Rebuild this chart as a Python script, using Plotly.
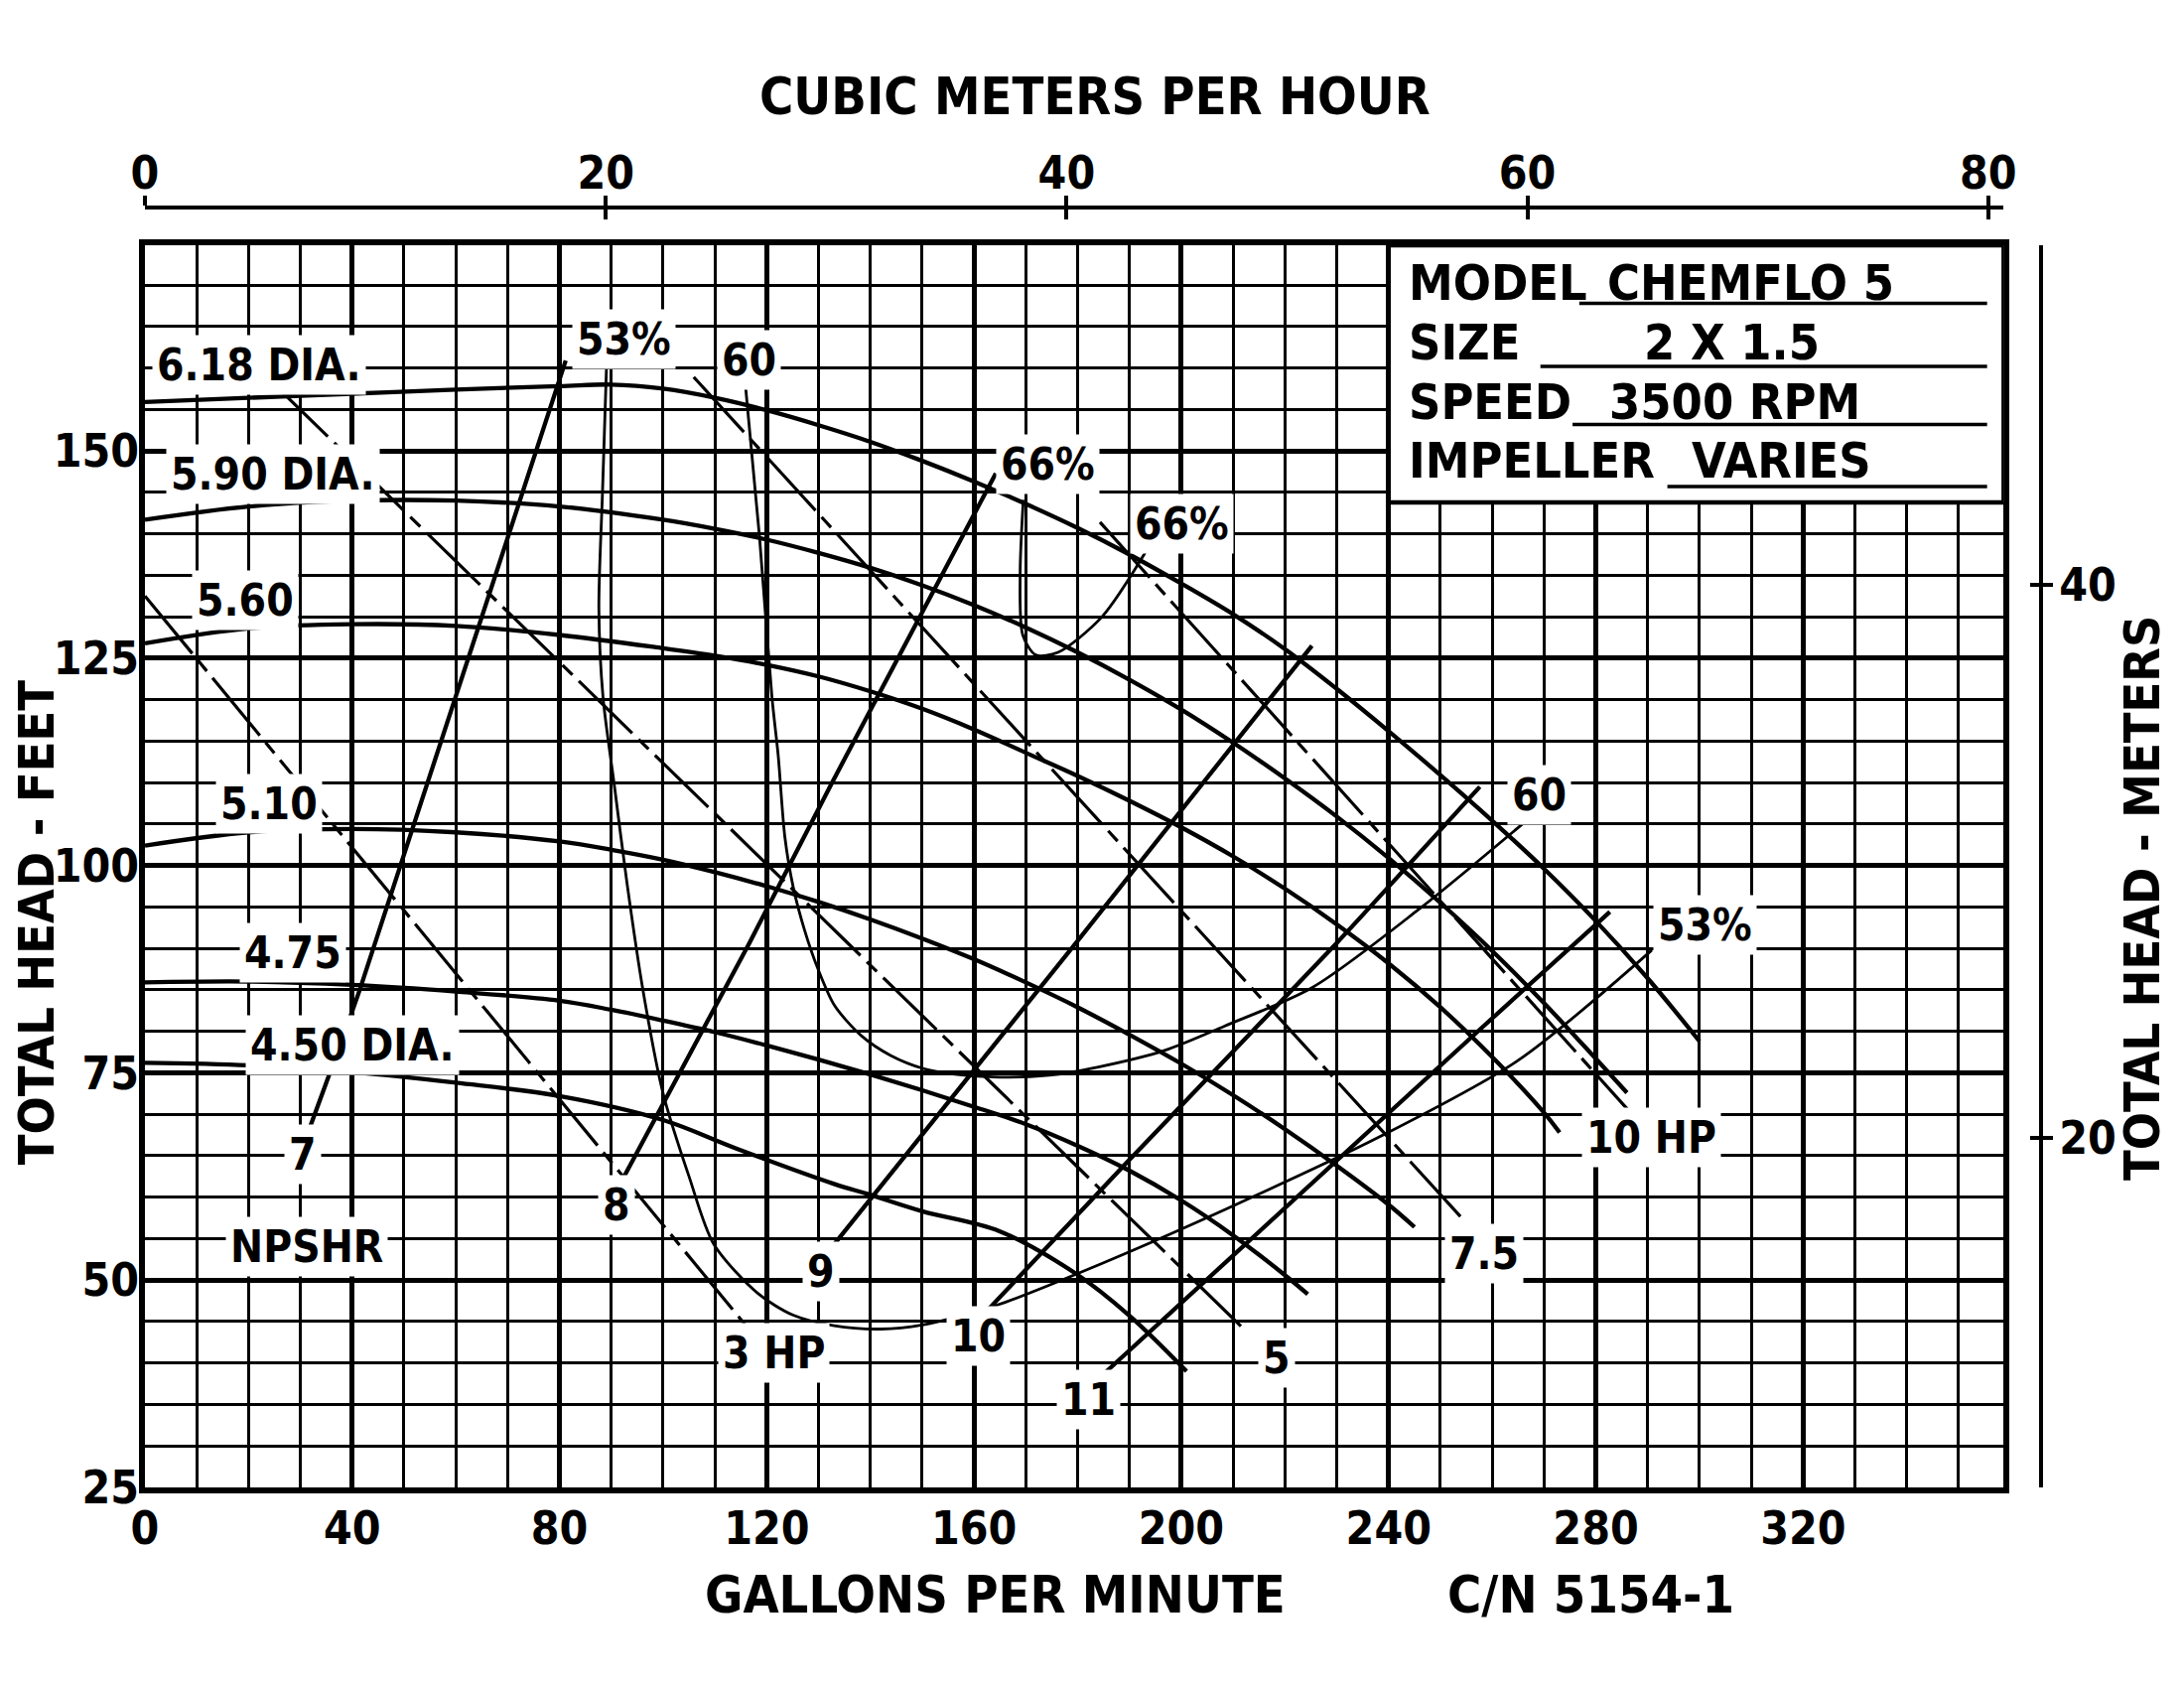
import plotly.graph_objects as go

FONT = "DejaVu Sans Condensed, Liberation Sans Narrow, Arial Narrow, sans-serif"

# ---------------- data (GPM, feet) ----------------
gpm_ticks = [0, 40, 80, 120, 160, 200, 240, 280, 320]
ft_ticks = [25, 50, 75, 100, 125, 150]
m3h_ticks = [0, 20, 40, 60, 80]
m_ticks = [20, 40]

d618_q = [0, 20, 40, 60, 80, 90, 100, 110, 120, 130, 140, 150, 160, 170, 180, 190, 200, 210, 220, 230, 240, 250, 260, 270, 280, 290, 300]
d618_h = [155.9, 156.4, 156.9, 157.4, 157.8, 158.0, 157.5, 156.4, 154.9, 153.1, 151.1, 148.8, 146.3, 143.6, 140.7, 137.5, 134.0, 130.3, 126.1, 121.3, 116.2, 110.9, 105.4, 99.6, 93.3, 86.4, 78.8]

d590_q = [0, 20, 40, 60, 80, 100, 110, 120, 130, 140, 150, 160, 170, 180, 190, 200, 210, 220, 230, 240, 250, 260, 270, 280, 286]
d590_h = [141.7, 143.3, 144.0, 144.0, 143.3, 141.7, 140.6, 139.3, 137.7, 135.9, 133.8, 131.4, 128.7, 125.7, 122.4, 118.8, 114.8, 110.5, 105.9, 100.9, 95.5, 89.7, 83.4, 76.7, 72.6]

d560_q = [0, 20, 40, 60, 80, 100, 110, 120, 130, 140, 150, 160, 170, 180, 190, 200, 210, 220, 230, 240, 250, 260, 270, 273]
d560_h = [126.8, 128.6, 129.1, 128.9, 127.8, 126.2, 125.3, 124.2, 122.8, 121.0, 118.9, 116.4, 113.6, 110.8, 107.8, 104.6, 101.1, 97.2, 92.9, 88.2, 82.9, 76.9, 70.2, 67.8]

d510_q = [0, 20, 40, 60, 80, 90, 100, 110, 120, 130, 140, 150, 160, 170, 180, 190, 200, 210, 220, 230, 240, 245]
d510_h = [102.4, 104.0, 104.4, 104.0, 102.9, 101.9, 100.7, 99.2, 97.5, 95.6, 93.5, 91.2, 88.7, 85.9, 82.9, 79.6, 76.1, 72.3, 68.2, 63.8, 59.1, 56.4]

d475_q = [0, 20, 40, 60, 80, 90, 100, 110, 120, 130, 140, 150, 160, 170, 180, 190, 200, 210, 220, 224.4]
d475_h = [85.9, 86.0, 85.6, 84.8, 83.7, 82.6, 81.3, 79.9, 78.3, 76.6, 74.8, 72.9, 70.9, 68.8, 66.2, 63.2, 59.6, 55.4, 50.6, 48.3]

d450_q = [0, 20, 40, 60, 80, 100, 114, 133, 139.4, 150, 164.9, 179.6, 190, 201]
d450_h = [76.2, 75.9, 75.1, 73.8, 72.2, 69.3, 65.9, 61.6, 60.4, 58.3, 55.9, 50.8, 45.7, 39.0]

eff53_q = [89.1, 88.3, 87.6, 88.4, 90.6, 93.0, 96.1, 100, 105, 109.8, 118.3, 125, 133, 142, 150, 163.6, 185, 210.5, 238, 265, 290.8]
eff53_h = [160.7, 145, 131, 120.3, 109.6, 98.0, 85, 72.5, 62.5, 54.3, 48.4, 45.8, 44.5, 44.1, 44.6, 46.8, 52.1, 59.1, 67.2, 76.5, 89.8]

eff60_q = [115.9, 118.6, 121.0, 122.2, 123.5, 125.1, 127.3, 129.9, 133.1, 138.2, 143.9, 150.3, 155.4, 163.6, 174.5, 184.0, 196.8, 208.2, 225.3, 245.8, 266.0]
eff60_h = [157.8, 139.6, 120.3, 113.3, 103.4, 97.4, 92.2, 87.5, 83.1, 79.5, 77.1, 75.5, 74.9, 74.5, 74.7, 75.7, 77.7, 80.6, 85.3, 94.7, 105.1]

eff66_q = [169.5, 168.9, 169.4, 171.9, 176.2, 184.7, 193.3]
eff66_h = [144.1, 135.3, 127.8, 125.4, 125.7, 130.0, 138.0]

np7_q = [31.7, 41.5, 81.2]
np7_h = [68.2, 85.1, 160.9]
np8_q = [92.3, 116.6, 132.6, 164.2]
np8_h = [62.3, 90.6, 110.0, 147.3]
np9_q = [132.2, 179.6, 225.2]
np9_h = [53.7, 90.6, 126.5]
np10_q = [162.5, 189.8, 229.9, 257.6]
np10_h = [46.3, 64.4, 90.6, 109.5]
np11_q = [184.7, 258.1, 282.7]
np11_h = [38.5, 80.5, 94.4]

hp3_q = [0, 116]
hp3_h = [132.5, 44.5]
hp5_q = [25.0, 212.4]
hp5_h = [158.0, 43.9]
hp75_q = [105.9, 255.0]
hp75_h = [158.9, 56.9]
hp10_q = [184.3, 286.1]
hp10_h = [141.4, 70.6]

# curve labels: text, GPM, feet
label_text = ["6.18 DIA.", "5.90 DIA.", "5.60", "5.10", "4.75", "4.50 DIA.",
              "53%", "60", "66%", "66%", "60", "53%",
              "7", "8", "9", "10", "11", "NPSHR",
              "3 HP", "5", "7.5", "10 HP"]
label_q = [22.0, 24.8, 19.3, 24.0, 28.5, 40.0,
           92.4, 116.6, 174.3, 200.1, 269.1, 301.0,
           30.4, 91.0, 130.5, 160.8, 182.0, 31.3,
           121.3, 218.4, 258.4, 290.8]
label_h = [160.4, 147.2, 132.0, 107.4, 89.5, 78.3,
           163.5, 161.0, 148.4, 141.2, 108.5, 92.8,
           65.2, 59.1, 51.1, 43.3, 35.6, 54.0,
           41.2, 40.6, 53.2, 67.2]

info_keys = ["MODEL", "SIZE", "SPEED", "IMPELLER"]
info_vals = ["CHEMFLO 5", "2 X 1.5", "3500 RPM", "VARIES"]

# ---------------- geometry ----------------
W, H = 2184, 1684
ML, MR, MT, MB = 138, 20, 20, 194
PW, PH = W - ML - MR, H - MT - MB
OFF = 8  # browser body margin


def pxx(x_orig):
    return (x_orig - OFF - ML) / PW


def pyy(y_orig):
    return (H - MB - (y_orig - OFF)) / PH


XD1 = pxx(2023)
YD1 = pyy(247)
X_MAX = 358.7
Y_MIN, Y_MAX = 25, 174.8

fig = go.Figure()


def curve(q, h, width, dash=None, shape="spline", smoothing=1.0):
    fig.add_trace(go.Scatter(
        x=q, y=h, mode="lines",
        line=dict(color="black", width=width, dash=dash, shape=shape, smoothing=smoothing),
        hoverinfo="skip", showlegend=False))


for q, h in [(d618_q, d618_h), (d590_q, d590_h), (d560_q, d560_h),
             (d510_q, d510_h), (d475_q, d475_h), (d450_q, d450_h)]:
    curve(q, h, 4.3, smoothing=1.0)

for q, h in [(eff53_q, eff53_h), (eff60_q, eff60_h), (eff66_q, eff66_h)]:
    curve(q, h, 2.8, smoothing=0.8)

for q, h in [(np7_q, np7_h), (np8_q, np8_h), (np9_q, np9_h), (np10_q, np10_h), (np11_q, np11_h)]:
    curve(q, h, 4.3, smoothing=0.6)

DASH = "75px,9px,14px,9px"
for q, h in [(hp3_q, hp3_h), (hp5_q, hp5_h), (hp75_q, hp75_h), (hp10_q, hp10_h)]:
    curve(q, h, 3.2, dash=DASH, shape="linear")

# helper traces so the secondary axes are drawn
for xa in ["x2", "x3"]:
    fig.add_trace(go.Scatter(x=m3h_ticks, y=[None] * len(m3h_ticks), xaxis=xa, yaxis="y",
                             mode="lines", hoverinfo="skip", showlegend=False))
for ya in ["y2", "y3"]:
    fig.add_trace(go.Scatter(x=[None] * len(m_ticks), y=m_ticks, xaxis="x", yaxis=ya,
                             mode="lines", hoverinfo="skip", showlegend=False))

annotations = []
for t, q, h in zip(label_text, label_q, label_h):
    annotations.append(dict(x=q, y=h, xref="x", yref="y", text=t, showarrow=False,
                            font=dict(family=FONT, size=44, color="black", weight="bold"),
                            bgcolor="white", borderpad=4, xanchor="center", yanchor="middle"))

# info box
info_y = [170.3, 163.1, 155.9, 148.8]
info_val_x = [309.8, 306.2, 306.8, 315.9]
line_x0 = [276.8, 269.3, 275.5, 293.8]
line_y = [167.8, 160.2, 153.2, 145.7]
shapes = [dict(type="rect", xref="x", yref="y", x0=240, x1=X_MAX, y0=143.8, y1=Y_MAX,
               fillcolor="white", line=dict(color="black", width=4.5), layer="above")]
for k, v, yy, vx, lx0, ly in zip(info_keys, info_vals, info_y, info_val_x, line_x0, line_y):
    annotations.append(dict(x=243.4, y=yy, xref="x", yref="y", text=k, showarrow=False,
                            font=dict(family=FONT, size=50, color="black", weight="bold"),
                            xanchor="left", yanchor="middle"))
    annotations.append(dict(x=vx, y=yy, xref="x", yref="y", text=v, showarrow=False,
                            font=dict(family=FONT, size=50, color="black", weight="bold"),
                            xanchor="center", yanchor="middle"))
    shapes.append(dict(type="line", xref="x", yref="y", x0=lx0, x1=355.5, y0=ly, y1=ly,
                       line=dict(color="black", width=3.5), layer="above"))

TF = dict(family=FONT, size=52, color="black", weight="bold")
TFV = dict(family=FONT, size=50, color="black", weight="bold")
annotations += [
    dict(x=pxx(1105), y=pyy(97), xref="paper", yref="paper", text="CUBIC METERS PER HOUR",
         showarrow=False, font=TF, xanchor="center", yanchor="middle"),
    dict(x=pxx(1005), y=pyy(1606), xref="paper", yref="paper", text="GALLONS PER MINUTE",
         showarrow=False, font=TF, xanchor="center", yanchor="middle"),
    dict(x=pxx(1606), y=pyy(1606), xref="paper", yref="paper", text="C/N 5154-1",
         showarrow=False, font=TF, xanchor="center", yanchor="middle"),
    dict(x=pxx(37), y=pyy(929), xref="paper", yref="paper", text="TOTAL HEAD - FEET",
         showarrow=False, font=TFV, xanchor="center", yanchor="middle", textangle=-90),
    dict(x=pxx(2163), y=pyy(905), xref="paper", yref="paper", text="TOTAL HEAD - METERS",
         showarrow=False, font=TFV, xanchor="center", yanchor="middle", textangle=-90),
]

TICKF = dict(family=FONT, size=46, color="black", weight="bold")
top_common = dict(overlaying="x", side="top", anchor="free", position=pyy(209),
                  domain=[0, XD1], range=[0, 80.67], tickvals=m3h_ticks,
                  showgrid=False, showline=True, linecolor="black", linewidth=3.5,
                  ticklen=10, tickwidth=3.5, tickcolor="black", zeroline=False)
right_common = dict(overlaying="y", side="right", anchor="free", position=pxx(2061),
                    domain=[0, YD1], range=[7.38, 52.27], tickvals=m_ticks,
                    showgrid=False, showline=True, linecolor="black", linewidth=3.5,
                    ticklen=10, tickwidth=3.5, tickcolor="black", zeroline=False)
fig.update_layout(
    width=W, height=H,
    margin=dict(l=ML, r=MR, t=MT, b=MB, pad=0),
    paper_bgcolor="white", plot_bgcolor="white",
    hovermode=False, showlegend=False,
    xaxis=dict(domain=[0, XD1], range=[0, X_MAX], tickvals=gpm_ticks,
               showgrid=True, gridcolor="black", gridwidth=5.0,
               minor=dict(dtick=10, tick0=0, showgrid=True, gridcolor="black", gridwidth=3.4),
               showline=True, linecolor="black", linewidth=5.5, mirror=True,
               ticks="", tickfont=TICKF, ticklabelstandoff=-4, zeroline=False),
    yaxis=dict(domain=[0, YD1], range=[Y_MIN, Y_MAX], tickvals=ft_ticks,
               showgrid=True, gridcolor="black", gridwidth=5.0,
               minor=dict(dtick=5, tick0=0, showgrid=True, gridcolor="black", gridwidth=3.4),
               showline=True, linecolor="black", linewidth=5.5, mirror=True,
               ticks="", tickfont=TICKF, ticklabelstandoff=-9, zeroline=False),
    xaxis2=dict(**top_common, ticks="outside", tickfont=TICKF, ticklabelstandoff=-11),
    xaxis3=dict(**top_common, ticks="inside", showticklabels=False),
    yaxis2=dict(**right_common, ticks="outside", tickfont=TICKF, ticklabelstandoff=-3),
    yaxis3=dict(**right_common, ticks="inside", showticklabels=False),
    annotations=annotations,
    shapes=shapes,
)

fig.write_html("out.html")
